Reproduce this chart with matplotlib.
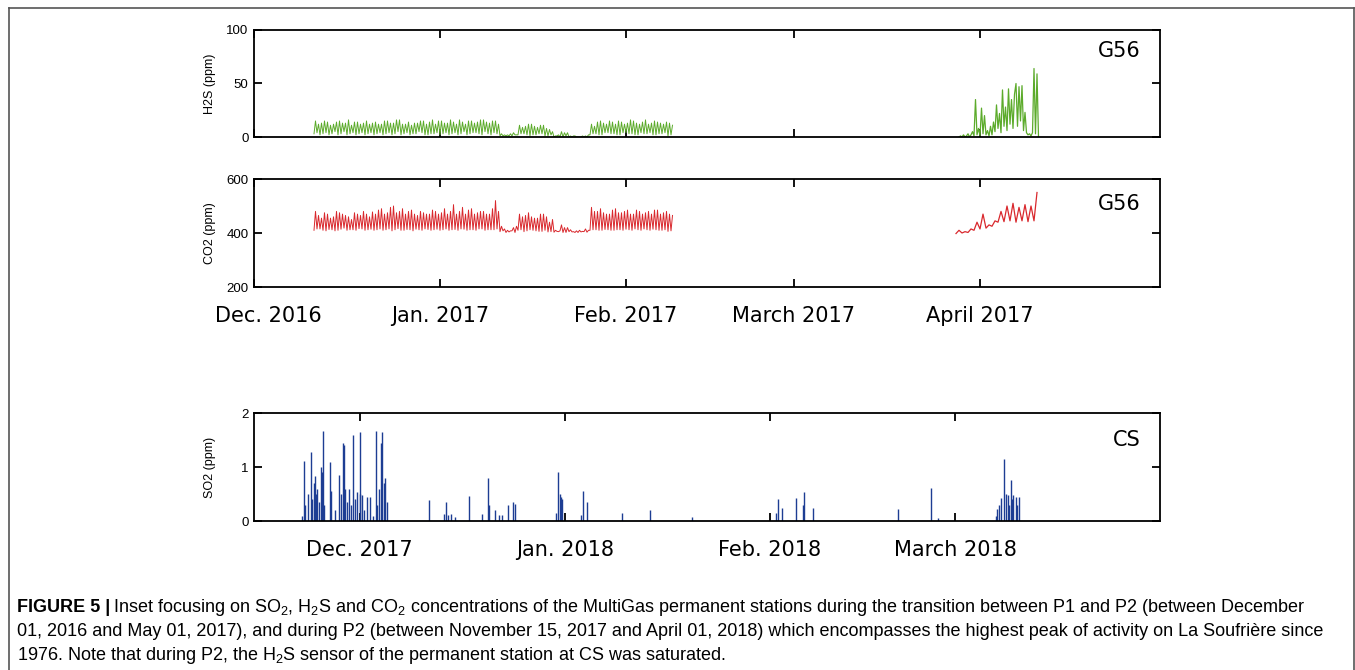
import numpy as np
import pandas as pd
import matplotlib
matplotlib.use("Agg")
import matplotlib.pyplot as plt
from matplotlib.lines import Line2D
from matplotlib.transforms import ScaledTranslation

plt.rcParams['mathtext.fontset'] = 'custom'
plt.rcParams['mathtext.default'] = 'regular'

# ---------------- data ----------------
# G56 station, winter 2016-2017. Days counted from Dec 1 2016.
# block 1: four readings per day (low, high, low, high), days 10..69
h2s_lo = [3, 2, 4, 3, 2, 5, 3, 2, 4, 3,
          2, 4, 3, 2, 5, 3, 2, 3, 4, 2,
          3, 2, 4, 3, 2, 5, 3, 4, 2, 3,
          4, 1, 1, 1, 2, 3, 1, 2, 3, 1,
          0, 0, 1, 0, 0, 0, 2, 3, 2, 4,
          3, 2, 4, 3, 2, 3, 4, 2, 3, 1]
h2s_hi = [15, 13, 14, 12, 15, 13, 11, 14, 13, 12,
          14, 12, 15, 13, 16, 12, 11, 13, 15, 14,
          12, 15, 13, 14, 16, 12, 15, 14, 16, 13,
          15, 3, 2, 4, 11, 10, 12, 9, 11, 7,
          1, 5, 4, 1, 0, 1, 12, 14, 13, 15,
          12, 14, 13, 15, 12, 16, 13, 14, 12, 13]
h2s_lo2 = [4, 3, 2, 5, 3, 2, 4, 3, 2, 4,
           3, 2, 4, 3, 2, 4, 3, 5, 2, 3,
           4, 3, 2, 4, 3, 2, 4, 3, 5, 2,
           3, 1, 1, 2, 3, 2, 2, 3, 1, 2,
           1, 0, 0, 1, 0, 0, 3, 2, 4, 3,
           2, 4, 3, 2, 4, 3, 2, 3, 4, 2]
h2s_hi2 = [12, 15, 11, 14, 13, 16, 14, 12, 15, 13,
           12, 15, 13, 16, 12, 14, 13, 15, 12, 16,
           15, 13, 16, 12, 14, 15, 13, 16, 14, 15,
           12, 2, 3, 2, 9, 12, 10, 11, 8, 5,
           2, 4, 1, 0, 1, 2, 10, 15, 12, 14,
           15, 12, 16, 13, 14, 12, 15, 13, 14, 11]
co2_lo = [410, 415, 408, 412, 410, 418, 412, 410, 415, 412,
          410, 415, 412, 408, 416, 410, 412, 414, 410, 413,
          412, 410, 415, 412, 410, 414, 412, 410, 415, 412,
          412, 405, 402, 408, 410, 405, 412, 408, 406, 404,
          403, 408, 402, 404, 402, 405, 410, 412, 410, 412,
          410, 412, 414, 410, 412, 415, 410, 412, 410, 406]
co2_hi = [480, 455, 470, 460, 475, 465, 450, 470, 480, 460,
          470, 490, 475, 500, 480, 470, 485, 465, 475, 470,
          480, 475, 470, 505, 480, 470, 490, 475, 480, 470,
          520, 425, 410, 420, 470, 465, 460, 455, 470, 440,
          410, 430, 420, 405, 410, 415, 495, 480, 475, 470,
          490, 475, 485, 470, 480, 475, 470, 485, 475, 470]
co2_lo2 = [415, 410, 413, 408, 414, 410, 412, 416, 410, 414,
           412, 410, 415, 412, 410, 413, 408, 412, 415, 410,
           414, 412, 410, 413, 415, 410, 412, 415, 410, 412,
           415, 408, 404, 402, 412, 408, 410, 406, 410, 405,
           406, 402, 405, 402, 404, 403, 412, 410, 413, 410,
           412, 410, 412, 415, 410, 412, 414, 410, 412, 408]
co2_hi2 = [465, 475, 455, 480, 470, 460, 475, 465, 470, 478,
           485, 470, 495, 475, 490, 480, 470, 480, 470, 485,
           470, 490, 480, 470, 495, 485, 470, 480, 470, 490,
           480, 415, 408, 425, 460, 475, 455, 470, 460, 450,
           405, 420, 412, 408, 406, 410, 480, 490, 470, 485,
           475, 480, 470, 485, 470, 480, 485, 470, 480, 465]
block1_days = np.arange(10, 70, 0.25)

# block 2 (end of March / April 2017)
h2s_apr = [0, 1, 0, 2, 0, 1, 3, 0, 2, 5,
           1, 35, 2, 8, 1, 27, 3, 20, 2, 6,
           1, 10, 2, 14, 5, 30, 8, 22, 4, 44,
           10, 28, 6, 45, 12, 35, 8, 40, 50, 10,
           47, 15, 48, 6, 23, 4, 2, 3, 1, 4,
           64, 3, 59, 0]
h2s_apr_days = np.arange(117.5, 131, 0.25)
co2_apr_lo = [398, 400, 402, 410, 415, 418, 425, 440, 442, 445, 440, 445, 442, 445]
co2_apr_hi = [410, 405, 415, 440, 470, 430, 445, 480, 500, 510, 495, 505, 500, 550]
co2_apr_days = np.arange(117, 131, 0.5)

# CS station, winter 2017-2018. Days counted from Nov 15 2017.
so2_days = [7.3, 7.5, 7.7, 8.2, 8.6, 8.8, 9.0, 9.2, 9.4, 9.6, 9.8, 10.1, 10.25, 10.4, 10.6,
            11.5, 11.7, 12.3, 12.9, 13.1, 13.4, 13.6, 13.8, 14.0, 14.3, 14.6, 15.0, 15.2,
            15.6, 15.96, 16.1, 16.3, 16.6, 17.1, 17.5, 18.0, 18.4, 18.6, 18.9, 19.2, 19.4,
            19.6, 19.8, 20.1,
            26.4, 28.7, 29.1, 29.4, 29.8, 30.4, 32.5, 34.5, 35.4, 35.6, 36.5, 37.0, 37.5,
            38.4, 39.1, 39.4, 45.7, 45.9, 46.2, 46.4, 46.6, 49.5, 49.7, 50.4, 55.7, 59.9,
            66.2, 79.0, 79.2, 79.8, 82.0, 83.0, 83.1, 84.5, 97.4, 102.4, 103.4,
            112.2, 112.4, 112.7, 113.0, 113.4, 113.7, 114.0, 114.2, 114.4, 114.6, 114.8,
            115.2, 115.4, 115.7]
so2_ppm = [0.1, 1.12, 0.3, 0.5, 1.28, 0.4, 0.7, 0.84, 0.5, 0.6, 0.35, 1.0, 0.9, 1.67, 0.3,
           1.1, 0.55, 0.2, 0.85, 0.5, 1.44, 1.4, 0.6, 0.35, 0.6, 0.3, 1.6, 0.4,
           0.54, 1.64, 0.5, 0.48, 0.2, 0.45, 0.45, 0.1, 1.67, 0.3, 0.6, 1.45, 1.64,
           0.7, 0.8, 0.35,
           0.38, 0.13, 0.35, 0.12, 0.13, 0.07, 0.47, 0.13, 0.79, 0.3, 0.2, 0.12, 0.12,
           0.29, 0.36, 0.32, 0.15, 0.9, 0.5, 0.44, 0.4, 0.12, 0.55, 0.35, 0.15, 0.2,
           0.07, 0.15, 0.4, 0.25, 0.43, 0.3, 0.53, 0.25, 0.22, 0.62, 0.06,
           0.1, 0.23, 0.3, 0.42, 1.14, 0.5, 0.48, 0.3, 0.76, 0.4, 0.48,
           0.45, 0.3, 0.45]

p1_start = pd.Timestamp('2016-12-01')
p1_end = pd.Timestamp('2017-05-01')
p2_start = pd.Timestamp('2017-11-15')
p2_end = pd.Timestamp('2018-04-01')
p1_months = pd.to_datetime(['2016-12-01', '2017-01-01', '2017-02-01', '2017-03-01', '2017-04-01'])
p1_labels = ['Dec. 2016', 'Jan. 2017', 'Feb. 2017', 'March 2017', 'April 2017']
p2_months = pd.to_datetime(['2017-12-01', '2018-01-01', '2018-02-01', '2018-03-01'])
p2_labels = ['Dec. 2017', 'Jan. 2018', 'Feb. 2018', 'March 2018']


def to_dates(start, days):
    return start + pd.to_timedelta(np.asarray(days, dtype=float), unit='D')


def interleave(*cols):
    return np.column_stack(cols).ravel()


# ---------------- figure ----------------
W, H = 1355, 670
fig = plt.figure(figsize=(W / 100, H / 100), dpi=100)
tick_font = 'Liberation Sans'
green, red, blue = '#5cab2b', '#d9282d', '#1d3d93'


def box(top, bottom):
    return [254 / W, (H - bottom) / H, 906 / W, (bottom - top) / H]


def style(ax, ylim, yticks, ylabel, station, st_y, months, xlim):
    ax.set_xlim(*xlim)
    ax.set_ylim(*ylim)
    ax.set_yticks(yticks)
    ax.set_yticklabels([str(v) for v in yticks], fontsize=9.5, family=tick_font)
    ax.set_xticks(months)
    ax.tick_params(direction='in', length=6, width=1.3, top=True, right=True, pad=4)
    for s in ax.spines.values():
        s.set_linewidth(1.3)
    ax.set_ylabel(ylabel, fontsize=9, family=tick_font)
    ax.yaxis.set_label_coords(-0.042, 0.5)
    ax.text(0.979, st_y, station, transform=ax.transAxes, ha='right', va='center',
            fontsize=15, family='DejaVu Sans')


ax1 = fig.add_axes(box(30, 137))
ax1.plot(to_dates(p1_start, block1_days), interleave(h2s_lo, h2s_hi, h2s_lo2, h2s_hi2),
         color=green, lw=0.7)
ax1.plot(to_dates(p1_start, h2s_apr_days), h2s_apr, color=green, lw=0.9)
style(ax1, (0, 100), [0, 50, 100], 'H2S (ppm)', 'G56', 0.8, p1_months, (p1_start, p1_end))
ax1.set_xticklabels([])

ax2 = fig.add_axes(box(179, 287))
ax2.plot(to_dates(p1_start, block1_days), interleave(co2_lo, co2_hi, co2_lo2, co2_hi2),
         color=red, lw=0.7)
ax2.plot(to_dates(p1_start, co2_apr_days), interleave(co2_apr_lo, co2_apr_hi), color=red, lw=0.9)
style(ax2, (200, 600), [200, 400, 600], 'CO2 (ppm)', 'G56', 0.77, p1_months, (p1_start, p1_end))
ax2.set_xticklabels(p1_labels, fontsize=15, family='DejaVu Sans')
ax2.tick_params(axis='x', pad=14)

ax3 = fig.add_axes(box(413, 521))
ax3.vlines(to_dates(p2_start, so2_days), 0, so2_ppm, color=blue, lw=1.0)
style(ax3, (0, 2), [0, 1, 2], 'SO2 (ppm)', 'CS', 0.75, p2_months, (p2_start, p2_end))
ax3.set_xticklabels(p2_labels, fontsize=15, family='DejaVu Sans')
ax3.tick_params(axis='x', pad=14)

# first label of the upper date row sits a bit right of its tick
dec_label = ax2.get_xticklabels()[0]
dec_label.set_transform(dec_label.get_transform() + ScaledTranslation(0.14, 0, fig.dpi_scale_trans))

# frame around the figure panel (bottom edge falls outside the crop)
frame = dict(color='#555555', lw=1.2, transform=fig.transFigure)
fig.add_artist(Line2D([9 / W, 9 / W], [0, (H - 8) / H], **frame))
fig.add_artist(Line2D([9 / W, 1354 / W], [(H - 8) / H, (H - 8) / H], **frame))
fig.add_artist(Line2D([1354 / W, 1354 / W], [0, (H - 8) / H], **frame))

# caption
cap_family = ['Liberation Sans Narrow', 'Liberation Sans']
cap_head = 'FIGURE 5 |'
cap_lines = [
    'Inset focusing on SO$_2$, H$_2$S and CO$_2$ concentrations of the MultiGas permanent '
    'stations during the transition between P1 and P2 (between December',
    '01, 2016 and May 01, 2017), and during P2 (between November 15, 2017 and April 01, 2018) '
    'which encompasses the highest peak of activity on La Soufrière since',
    '1976. Note that during P2, the H$_2$S sensor of the permanent station at CS was saturated.',
]
cap_y = [607, 631, 655]
x0 = 17 / W
renderer = fig.canvas.get_renderer()

probe = fig.text(x0, 0.5, cap_lines[1], fontsize=12, family=cap_family)
size = 12 * (1323 - 17) / probe.get_window_extent(renderer).width
probe.remove()

head = fig.text(x0, (H - cap_y[0]) / H, cap_head, fontsize=size, family=cap_family,
                weight='bold', va='center')
head_w = head.get_window_extent(renderer).width
fig.text(x0 + (head_w + 3) / W, (H - cap_y[0]) / H, cap_lines[0], fontsize=size,
         family=cap_family, va='center')
for line, y in zip(cap_lines[1:], cap_y[1:]):
    fig.text(x0, (H - y) / H, line, fontsize=size, family=cap_family, va='center')

fig.savefig('out.png', dpi=100)
